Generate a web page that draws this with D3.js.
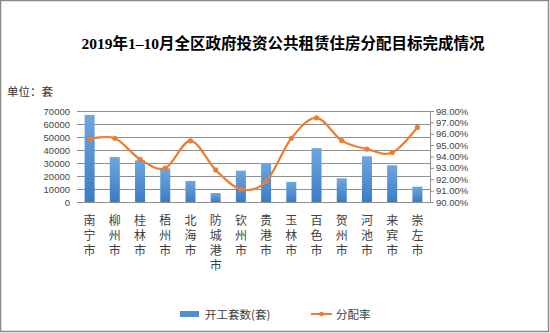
<!DOCTYPE html>
<html><head><meta charset="utf-8">
<script src="https://cdn.jsdelivr.net/npm/d3@7"></script>
<style>body{margin:0;background:#fff}svg{display:block}</style>
</head><body><svg id="c" width="550" height="333"></svg>
<script>
const categories = ["南宁市","柳州市","桂林市","梧州市","北海市","防城港市","钦州市","贵港市","玉林市","百色市","贺州市","河池市","来宾市","崇左市"];
const starts = [67000,34600,32000,25900,16200,6900,24100,30000,15500,41400,18200,35200,28300,11800];
const rates = [95.53,95.6,93.76,92.97,95.38,92.82,91.12,91.8,95.6,97.4,95.4,94.65,94.35,96.56];
const leftTicks = [0,10000,20000,30000,40000,50000,60000,70000];
const rightTicks = [90,91,92,93,94,95,96,97,98];
const title = "2019年1–10月全区政府投资公共租赁住房分配目标完成情况";
const unitLabel = "单位：套";
const seriesNames = ["开工套数(套)","分配率"];

const svg = d3.select("#c");
const sans = "'Noto Sans CJK SC','Liberation Sans',sans-serif";
const L = 77, R = 430, T = 111, B = 202;

svg.append("rect").attr("x",0.5).attr("y",0.5).attr("width",548).attr("height",331)
  .attr("fill","#fff").attr("stroke","#8a8a8a").attr("stroke-width",1.5);

const defs = svg.append("defs");
const g = defs.append("linearGradient").attr("id","bg").attr("x1",0).attr("y1",0).attr("x2",0).attr("y2",1);
g.append("stop").attr("offset","0%").attr("stop-color","#6fa7de");
g.append("stop").attr("offset","100%").attr("stop-color","#3b7cc5");

svg.append("text").attr("x",283).attr("y",49).attr("text-anchor","middle")
  .attr("font-family","'Liberation Serif','Noto Sans CJK SC',serif").attr("font-weight","bold")
  .attr("font-size",15.5).attr("fill","#000").text(title);

svg.append("text").attr("x",7).attr("y",96).attr("font-family",sans).attr("font-size",11.5)
  .attr("fill","#333").text(unitLabel);

const x = d3.scaleBand().domain(categories).range([L,R]);
const yL = d3.scaleLinear().domain([0,70000]).range([B,T]);
const yR = d3.scaleLinear().domain([90,98]).range([B,T]);

// gridlines
svg.append("g").selectAll("line").data(leftTicks).join("line")
  .attr("x1",L).attr("x2",R).attr("y1",d=>Math.round(yL(d))+0.5).attr("y2",d=>Math.round(yL(d))+0.5)
  .attr("stroke","#8f8f8f").attr("stroke-width",1);

// left axis labels
const la = svg.append("g").attr("transform",`translate(${L},0)`)
  .call(d3.axisLeft(yL).tickValues(leftTicks).tickSize(0).tickPadding(7).tickFormat(d3.format("d")));
la.select(".domain").remove();
la.selectAll("text").attr("font-family","'Liberation Sans',sans-serif").attr("font-size",9.5).attr("fill","#444");

// right axis
const ra = svg.append("g").attr("transform",`translate(${R},0)`)
  .call(d3.axisRight(yR).tickValues(rightTicks).tickSize(4).tickPadding(2).tickFormat(d=>d.toFixed(2)+"%"));
ra.select(".domain").attr("stroke","#8f8f8f");
ra.selectAll(".tick line").attr("stroke","#8f8f8f");
ra.selectAll("text").attr("font-family","'Liberation Sans',sans-serif").attr("font-size",9.5).attr("fill","#444");

// bars
const bw = 10;
svg.append("g").selectAll("rect").data(categories).join("rect")
  .attr("x",(d)=>x(d)+x.bandwidth()/2-bw/2)
  .attr("y",(d,i)=>yL(starts[i])).attr("width",bw)
  .attr("height",(d,i)=>yL(0)-yL(starts[i])).attr("fill","url(#bg)");

// line
const pts = categories.map((c,i)=>[x(c)+x.bandwidth()/2, yR(rates[i])]);
svg.append("path").attr("d",d3.line().curve(d3.curveCardinal.tension(0))(pts))
  .attr("fill","none").attr("stroke","#ed7d31").attr("stroke-width",2.2);
svg.append("g").selectAll("circle").data(pts).join("circle")
  .attr("cx",d=>d[0]).attr("cy",d=>d[1]).attr("r",2.6).attr("fill","#ed7d31");

// category labels (vertical, one text each)
svg.append("g").selectAll("text").data(categories).join("text")
  .attr("x",d=>x(d)+x.bandwidth()/2).attr("y",214)
  .attr("writing-mode","vertical-rl").style("writing-mode","vertical-rl")
  .attr("letter-spacing",3).attr("text-orientation","upright")
  .attr("font-family",sans).attr("font-size",12).attr("fill","#404040").text(d=>d);

// legend
svg.append("rect").attr("x",180).attr("y",311).attr("width",19).attr("height",6).attr("fill","#4f8fd2");
svg.append("text").attr("x",205).attr("y",318.5).attr("font-family",sans).attr("font-size",11.5).attr("fill","#404040").text(seriesNames[0]);
svg.append("line").attr("x1",311).attr("x2",332).attr("y1",314).attr("y2",314).attr("stroke","#ed7d31").attr("stroke-width",2);
svg.append("circle").attr("cx",321.5).attr("cy",314).attr("r",2.3).attr("fill","#ed7d31");
svg.append("text").attr("x",336).attr("y",318.5).attr("font-family",sans).attr("font-size",11.5).attr("fill","#404040").text(seriesNames[1]);
</script></body></html>
